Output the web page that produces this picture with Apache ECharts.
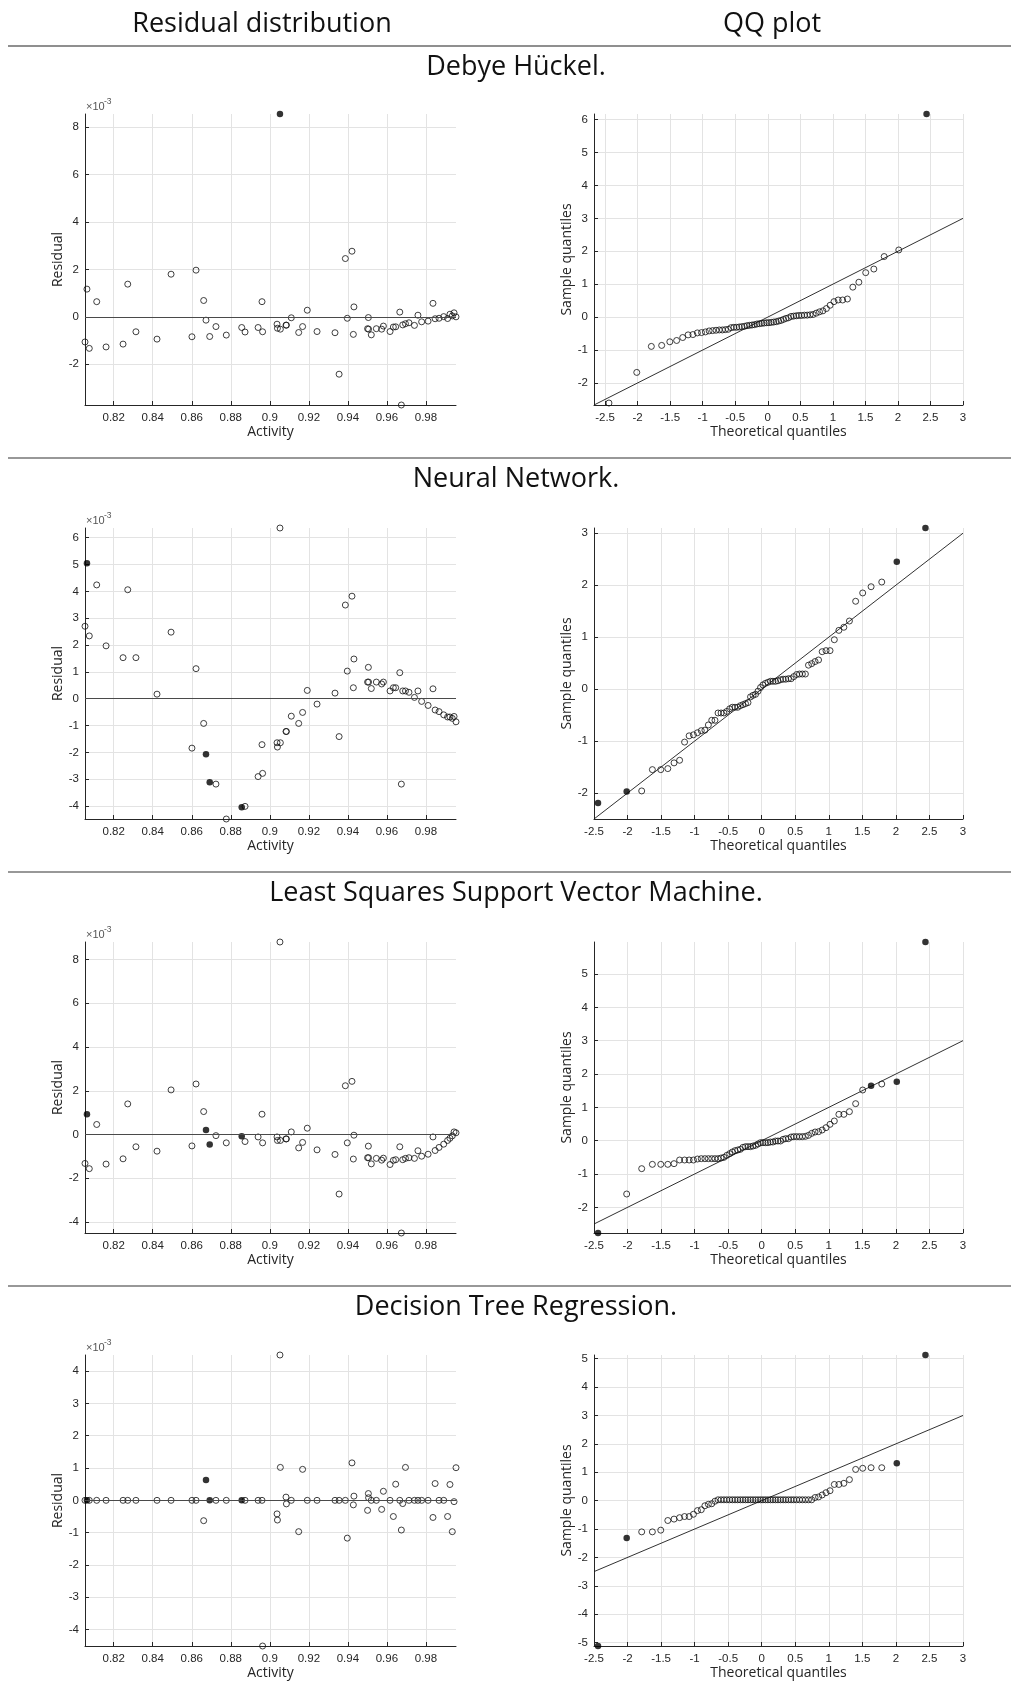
<!DOCTYPE html>
<html><head><meta charset="utf-8">
<script src="https://cdn.jsdelivr.net/npm/echarts@6/dist/echarts.min.js"></script>
<style>html,body{margin:0;padding:0;background:#fff}#c{width:1011px;height:1691px}</style>
</head><body><div id="c"></div><script>
// ---------- data ----------
const activity = [0.8053,0.8063,0.8075,0.8113,0.8161,0.8248,0.8272,0.8314,0.8422,0.8494,
0.8601,0.8622,0.8661,0.8673,0.8692,0.8724,0.8777,0.8856,0.8873,0.8940,
0.8960,0.8963,0.9037,0.9039,0.9052,0.9054,0.9083,0.9085,0.9110,0.9148,
0.9168,0.9192,0.9242,0.9334,0.9355,0.9387,0.9397,0.9421,0.9428,0.9431,
0.9505,0.9501,0.9506,0.9520,0.9546,0.9573,0.9582,0.9616,0.9633,0.9645,
0.9666,0.9674,0.9681,0.9695,0.9713,0.9741,0.9759,0.9778,0.9811,0.9836,
0.9847,0.9867,0.9891,0.9911,0.9923,0.9935,0.9944,0.9954];

// residuals in units of 1e-3
const resDH = [-1.06,1.17,-1.33,0.64,-1.27,-1.15,1.38,-0.63,-0.94,1.80,
-0.84,1.97,0.69,-0.14,-0.83,-0.41,-0.77,-0.45,-0.64,-0.45,
0.64,-0.63,-0.31,-0.48,8.56,-0.52,-0.35,-0.35,-0.04,-0.66,
-0.41,0.28,-0.62,-0.67,-2.42,2.46,-0.06,2.77,-0.74,0.42,
-0.03,-0.50,-0.52,-0.76,-0.50,-0.52,-0.39,-0.62,-0.43,-0.42,
0.20,-3.72,-0.34,-0.29,-0.25,-0.36,0.07,-0.21,-0.18,0.57,
-0.08,-0.06,0.01,-0.07,0.11,0.04,0.17,0.00];
const resNN = [2.70,5.05,2.34,4.24,1.97,1.53,4.06,1.53,0.17,2.48,
-1.84,1.12,-0.92,-2.07,-3.11,-3.18,-4.48,-4.04,-4.01,-2.90,
-1.71,-2.78,-1.64,-1.80,6.36,-1.64,-1.22,-1.22,-0.65,-0.92,
-0.51,0.31,-0.20,0.21,-1.41,3.49,1.03,3.82,0.41,1.48,
1.17,0.62,0.62,0.38,0.62,0.55,0.62,0.29,0.41,0.41,
0.97,-3.18,0.29,0.29,0.24,0.05,0.29,-0.10,-0.25,0.37,
-0.42,-0.48,-0.60,-0.68,-0.68,-0.73,-0.66,-0.86];
const resLSSVM = [-1.32,0.93,-1.56,0.46,-1.35,-1.11,1.40,-0.56,-0.76,2.04,
-0.52,2.31,1.05,0.21,-0.46,-0.05,-0.38,-0.08,-0.32,-0.11,
0.93,-0.38,-0.11,-0.27,8.80,-0.27,-0.20,-0.20,0.12,-0.61,
-0.36,0.29,-0.70,-0.91,-2.72,2.23,-0.38,2.43,-1.12,-0.03,
-0.53,-1.06,-1.06,-1.34,-1.09,-1.17,-1.08,-1.37,-1.18,-1.15,
-0.56,-4.50,-1.15,-1.09,-1.06,-1.09,-0.74,-0.99,-0.90,-0.11,
-0.73,-0.59,-0.44,-0.27,-0.17,-0.06,0.12,0.08];
const resDT = [0,0,0,0,0,0,0,0,0,0,
0,0,-0.63,0.63,0,0,0,0,0,0,
0,-4.51,-0.42,-0.61,4.50,1.02,0.10,-0.11,0,-0.97,
0.96,0,0,0,0,0,-1.17,1.16,-0.14,0.13,
0.21,-0.31,0.08,0,0,-0.28,0.28,0,-0.50,0.50,
0,-0.92,-0.10,1.02,0,0,0,0,0,-0.53,
0.52,0,0,-0.50,0.49,-0.97,-0.04,1.01];

// highlighted (filled) points, 0-based indices
const resFilledDH = [24];
const resFilledNN = [1,13,14,17];
const resFilledLSSVM = [1,13,14,17];
const resFilledDT = [1,13,14,17];

// theoretical quantiles (x of QQ plots)
const theoQ = [-2.440,-2.013,-1.789,-1.630,-1.505,-1.400,-1.307,-1.224,-1.150,-1.082,
-1.018,-0.958,-0.901,-0.847,-0.795,-0.745,-0.697,-0.651,-0.606,-0.563,
-0.520,-0.478,-0.438,-0.398,-0.358,-0.319,-0.280,-0.242,-0.205,-0.167,
-0.130,-0.092,-0.055,-0.018,0.018,0.055,0.092,0.130,0.167,0.205,
0.242,0.280,0.319,0.358,0.398,0.438,0.478,0.520,0.563,0.606,
0.651,0.697,0.745,0.795,0.847,0.901,0.958,1.018,1.082,1.150,
1.224,1.307,1.400,1.505,1.630,1.789,2.013,2.440];

// sample quantiles (y of QQ plots)
const qqDH = [-2.61,-1.68,-0.89,-0.86,-0.75,-0.71,-0.62,-0.54,-0.53,-0.48,
-0.47,-0.45,-0.42,-0.41,-0.40,-0.39,-0.39,-0.38,-0.37,-0.32,
-0.31,-0.31,-0.30,-0.29,-0.28,-0.26,-0.25,-0.24,-0.23,-0.21,
-0.20,-0.19,-0.18,-0.17,-0.17,-0.16,-0.15,-0.14,-0.12,-0.10,
-0.07,-0.04,-0.02,0.02,0.03,0.04,0.05,0.05,0.06,0.06,
0.07,0.08,0.12,0.16,0.19,0.26,0.36,0.47,0.52,0.52,
0.55,0.91,1.06,1.35,1.46,1.84,2.04,6.17];
const qqNN = [-2.19,-1.97,-1.96,-1.55,-1.55,-1.53,-1.42,-1.37,-1.02,-0.90,
-0.88,-0.84,-0.80,-0.79,-0.69,-0.60,-0.60,-0.46,-0.46,-0.46,
-0.43,-0.38,-0.35,-0.35,-0.35,-0.32,-0.30,-0.28,-0.26,-0.15,
-0.12,-0.10,-0.04,0.03,0.08,0.11,0.13,0.15,0.15,0.15,
0.16,0.18,0.19,0.19,0.20,0.20,0.24,0.28,0.29,0.29,
0.29,0.46,0.49,0.53,0.56,0.72,0.74,0.74,0.95,1.13,
1.19,1.31,1.69,1.85,1.97,2.06,2.45,3.10];
const qqLSSVM = [-2.77,-1.60,-0.84,-0.71,-0.71,-0.71,-0.69,-0.58,-0.58,-0.58,
-0.58,-0.55,-0.54,-0.54,-0.54,-0.54,-0.54,-0.54,-0.52,-0.50,
-0.44,-0.39,-0.34,-0.30,-0.28,-0.26,-0.20,-0.18,-0.18,-0.18,
-0.16,-0.14,-0.10,-0.06,-0.06,-0.06,-0.06,-0.04,-0.04,-0.01,
-0.01,-0.01,0.04,0.06,0.06,0.11,0.12,0.12,0.12,0.12,
0.13,0.16,0.22,0.26,0.27,0.32,0.39,0.49,0.59,0.79,
0.79,0.87,1.11,1.52,1.65,1.70,1.77,5.96];
const qqDT = [-5.12,-1.32,-1.10,-1.10,-1.04,-0.70,-0.65,-0.60,-0.56,-0.56,
-0.48,-0.35,-0.32,-0.18,-0.13,-0.11,-0.02,0.03,0.03,0.03,
0.03,0.03,0.03,0.03,0.03,0.03,0.03,0.03,0.03,0.03,
0.03,0.03,0.03,0.03,0.03,0.03,0.03,0.03,0.03,0.03,
0.03,0.03,0.03,0.03,0.03,0.03,0.03,0.03,0.03,0.03,
0.03,0.03,0.03,0.11,0.13,0.20,0.28,0.35,0.57,0.57,
0.61,0.74,1.10,1.14,1.16,1.16,1.32,5.13];
const qqFilledDH = [67];
const qqFilledNN = [0,1,66,67];
const qqFilledLSSVM = [0,64,66,67];
const qqFilledDT = [0,1,66,67];

// reference lines y = x
const qqLineDH = [[-2.67,-2.67],[3,3]];
const qqLineNN = [[-2.5,-2.5],[3,3]];
const qqLineLSSVM = [[-2.5,-2.5],[3,3]];
const qqLineDT = [[-2.5,-2.5],[3,3]];

// axis ranges and ticks
const resXRange = [0.8053,0.9954];
const resXTicks = [0.82,0.84,0.86,0.88,0.9,0.92,0.94,0.96,0.98];
const resYRangeDH = [-3.72,8.56], resYTicksDH = [-2,0,2,4,6,8];
const resYRangeNN = [-4.48,6.36], resYTicksNN = [-4,-3,-2,-1,0,1,2,3,4,5,6];
const resYRangeLSSVM = [-4.50,8.80], resYTicksLSSVM = [-4,-2,0,2,4,6,8];
const resYRangeDT = [-4.51,4.50], resYTicksDT = [-4,-3,-2,-1,0,1,2,3,4];
const qqXTicks = [-2.5,-2,-1.5,-1,-0.5,0,0.5,1,1.5,2,2.5,3];
const qqXRangeDH = [-2.67,3], qqYRangeDH = [-2.67,6.17], qqYTicksDH = [-2,-1,0,1,2,3,4,5,6];
const qqXRangeNN = [-2.5,3], qqYRangeNN = [-2.5,3.10], qqYTicksNN = [-2,-1,0,1,2,3];
const qqXRangeLSSVM = [-2.5,3], qqYRangeLSSVM = [-2.77,5.96], qqYTicksLSSVM = [-2,-1,0,1,2,3,4,5];
const qqXRangeDT = [-2.5,3], qqYRangeDT = [-5.12,5.13], qqYTicksDT = [-5,-4,-3,-2,-1,0,1,2,3,4,5];

const columnTitles = ['Residual distribution','QQ plot'];
const sectionTitles = ['Debye Hückel.','Neural Network.','Least Squares Support Vector Machine.','Decision Tree Regression.'];

// ---------- build ----------
const rows = [
 {res:resDH, resF:resFilledDH, resY:resYRangeDH, resYT:resYTicksDH, qq:qqDH, qqF:qqFilledDH, qqX:qqXRangeDH, qqY:qqYRangeDH, qqYT:qqYTicksDH, line:qqLineDH},
 {res:resNN, resF:resFilledNN, resY:resYRangeNN, resYT:resYTicksNN, qq:qqNN, qqF:qqFilledNN, qqX:qqXRangeNN, qqY:qqYRangeNN, qqYT:qqYTicksNN, line:qqLineNN},
 {res:resLSSVM, resF:resFilledLSSVM, resY:resYRangeLSSVM, resYT:resYTicksLSSVM, qq:qqLSSVM, qqF:qqFilledLSSVM, qqX:qqXRangeLSSVM, qqY:qqYRangeLSSVM, qqYT:qqYTicksLSSVM, line:qqLineLSSVM},
 {res:resDT, resF:resFilledDT, resY:resYRangeDT, resYT:resYTicksDT, qq:qqDT, qqF:qqFilledDT, qqX:qqXRangeDT, qqY:qqYRangeDT, qqYT:qqYTicksDT, line:qqLineDT}
];
const tops = [114,528,942,1355];
const gridH = 291;
const AX = '#262626', GRIDC = '#e3e3e3';
const nameStyle = {fontFamily:'Open Sans', fontSize:14, color:'#262626'};
const labStyle = {fontFamily:'Liberation Sans', fontSize:11.5, color:'#262626'};

function xAx(gi, range, ticks, name){
  return {type:'value', gridIndex:gi, min:range[0], max:range[1], name, nameLocation:'middle', nameGap:20,
    nameTextStyle:nameStyle,
    axisLine:{show:true,onZero:false,lineStyle:{color:AX,width:1}},
    axisTick:{show:true,inside:true,length:4,customValues:ticks,lineStyle:{color:AX}},
    axisLabel:Object.assign({customValues:ticks,margin:7},labStyle),
    splitLine:{show:true,lineStyle:{color:GRIDC,width:1}}};
}
function yAx(gi, range, ticks, name){
  return {type:'value', gridIndex:gi, min:range[0], max:range[1], name, nameLocation:'middle', nameGap:19,
    nameRotate:90, nameTextStyle:nameStyle,
    axisLine:{show:true,onZero:false,lineStyle:{color:AX,width:1}},
    axisTick:{show:true,inside:true,length:4,customValues:ticks,lineStyle:{color:AX}},
    axisLabel:Object.assign({customValues:ticks,margin:6},labStyle),
    splitLine:{show:true,lineStyle:{color:GRIDC,width:1}}};
}
const hollow = {symbol:'circle', symbolSize:6, itemStyle:{color:'rgba(255,255,255,0)', borderColor:'#111', borderWidth:1}, clip:false, z:3};
const filled = {symbol:'circle', symbolSize:6.5, itemStyle:{color:'#000', borderColor:'#000', borderWidth:0}, clip:false, z:4};

const grids=[], xAxes=[], yAxes=[], series=[], graphics=[];
rows.forEach((r,i)=>{
  const top = tops[i];
  // residual panel
  let gi = grids.length;
  grids.push({left:85, top:top, width:371, height:gridH});
  xAxes.push(xAx(gi, resXRange, resXTicks, 'Activity'));
  yAxes.push(yAx(gi, r.resY, r.resYT, 'Residual'));
  const pts = activity.map((a,k)=>[a, r.res[k]]);
  series.push(Object.assign({type:'scatter', xAxisIndex:gi, yAxisIndex:gi,
    data: pts.filter((p,k)=>r.resF.indexOf(k)<0),
    markLine:{silent:true, symbol:'none', label:{show:false}, animation:false,
      lineStyle:{color:'#4a4a4a', width:1, type:'solid'}, data:[{yAxis:0}]}}, hollow));
  series.push(Object.assign({type:'scatter', xAxisIndex:gi, yAxisIndex:gi,
    data: pts.filter((p,k)=>r.resF.indexOf(k)>=0)}, filled));
  // x10^-3 label
  graphics.push({type:'text', x:86, y:top-7, style:{text:'\u00d710', fontFamily:'Liberation Sans', fontSize:11, fill:'#555', verticalAlign:'middle'}});
  graphics.push({type:'text', x:104, y:top-12, style:{text:'-3', fontFamily:'Liberation Sans', fontSize:8.5, fill:'#555', verticalAlign:'middle'}});
  // QQ panel
  gi = grids.length;
  grids.push({left:594, top:top, width:369, height:gridH});
  xAxes.push(xAx(gi, r.qqX, qqXTicks, 'Theoretical quantiles'));
  yAxes.push(yAx(gi, r.qqY, r.qqYT, 'Sample quantiles'));
  series.push({type:'line', xAxisIndex:gi, yAxisIndex:gi, data:r.line, showSymbol:false, symbol:'none',
    lineStyle:{color:'#1a1a1a', width:0.9}, z:2, silent:true});
  const qpts = theoQ.map((q,k)=>[q, r.qq[k]]);
  series.push(Object.assign({type:'scatter', xAxisIndex:gi, yAxisIndex:gi,
    data: qpts.filter((p,k)=>r.qqF.indexOf(k)<0)}, hollow));
  series.push(Object.assign({type:'scatter', xAxisIndex:gi, yAxisIndex:gi,
    data: qpts.filter((p,k)=>r.qqF.indexOf(k)>=0)}, filled));
});

// headers and separators
const titleFont = 'Open Sans';
graphics.push({type:'text', x:262, y:24, style:{text:columnTitles[0], fontFamily:titleFont, fontSize:27, fill:'#111', align:'center', verticalAlign:'middle'}});
graphics.push({type:'text', x:772, y:24, style:{text:columnTitles[1], fontFamily:titleFont, fontSize:27, fill:'#111', align:'center', verticalAlign:'middle'}});
graphics.push({type:'line', shape:{x1:8,y1:46,x2:1011,y2:46}, style:{stroke:'#6a6a6a', lineWidth:1.6}});
const sepY = [46,458,872,1286];
sepY.forEach((y,i)=>{
  if(i>0) graphics.push({type:'line', shape:{x1:8,y1:y,x2:1011,y2:y}, style:{stroke:'#333', lineWidth:1.2}});
  graphics.push({type:'text', x:516, y:y+21, style:{text:sectionTitles[i], fontFamily:titleFont, fontSize:27, fill:'#111', align:'center', verticalAlign:'middle'}});
});

const chart = echarts.init(document.getElementById('c'), null, {renderer:'canvas'});
chart.setOption({
  animation:false,
  backgroundColor:'#fff',
  grid:grids.map(g=>Object.assign({containLabel:false, outerBoundsMode:'none'}, g)),
  xAxis:xAxes, yAxis:yAxes, series:series, graphic:graphics
});
</script></body></html>
